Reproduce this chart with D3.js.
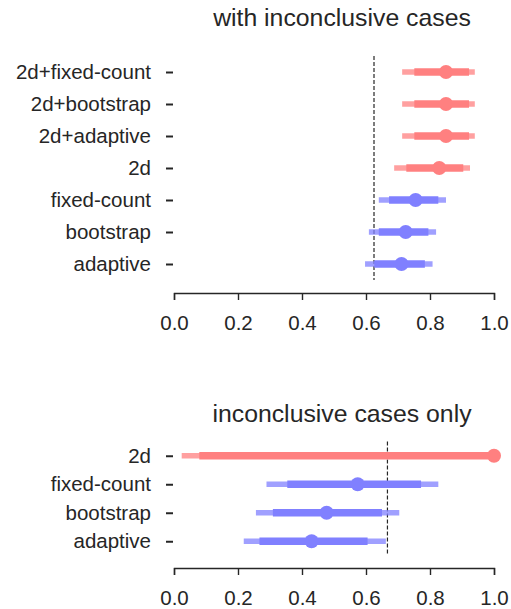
<!DOCTYPE html>
<meta charset="utf-8">
<style>
body { margin: 0; background: #fff; }
text { font-family: "Liberation Sans", Arial, sans-serif; fill: #262626; }
.axis path, .axis line { stroke: #262626; stroke-width: 1.4px; }
.yaxis line { stroke-width: 2px; }
.axis text { font-size: 20.5px; }
.title { font-size: 24.8px; }
</style>
<svg width="511" height="609"></svg>
<script src="https://d3js.org/d3.v7.min.js"></script>
<script>

  // top panel: with inconclusive cases
  var topCats = ["2d+fixed-count", "2d+bootstrap", "2d+adaptive", "2d", "fixed-count", "bootstrap", "adaptive"];
  var topGroup = ["2d", "2d", "2d", "2d", "1d", "1d", "1d"];
  var topMean = [0.850, 0.850, 0.850, 0.829, 0.755, 0.724, 0.711];
  var topOuterLo = [0.713, 0.713, 0.713, 0.688, 0.640, 0.609, 0.597];
  var topOuterHi = [0.940, 0.940, 0.940, 0.925, 0.850, 0.819, 0.808];
  var topInnerLo = [0.751, 0.751, 0.751, 0.726, 0.672, 0.640, 0.626];
  var topInnerHi = [0.922, 0.922, 0.922, 0.904, 0.826, 0.795, 0.784];
  var topRef = 0.625;

  // bottom panel: inconclusive cases only
  var botCats = ["2d", "fixed-count", "bootstrap", "adaptive"];
  var botGroup = ["2d", "1d", "1d", "1d"];
  var botMean = [1.000, 0.574, 0.477, 0.430];
  var botOuterLo = [0.024, 0.289, 0.256, 0.218];
  var botOuterHi = [1.000, 0.826, 0.704, 0.662];
  var botInnerLo = [0.079, 0.354, 0.309, 0.267];
  var botInnerHi = [1.000, 0.772, 0.650, 0.605];
  var botRef = 0.667;

  var xTicks = [0, 0.2, 0.4, 0.6, 0.8, 1.0];

  var svg = d3.select("svg");
  var color = d3.scaleOrdinal().domain(["2d", "1d"]).range(["#ff8080", "#8080ff"]);
  var x = d3.scaleLinear().domain([0, 1]).range([174, 494]);

  function panel(title, titleY, cats, group, mean, oLo, oHi, iLo, iHi, ref, y0, y1, axisY) {
    var y = d3.scalePoint().domain(cats).range([y0, y1]).padding(0.5);
    var g = svg.append("g");

    g.append("text").attr("class", "title")
        .attr("x", 342).attr("y", titleY)
        .attr("text-anchor", "middle")
        .text(title);

    g.append("line")
        .attr("x1", x(ref)).attr("x2", x(ref))
        .attr("y1", y0).attr("y2", y1)
        .attr("stroke", "#262626")
        .attr("stroke-width", 1.2)
        .attr("stroke-dasharray", "4,2");

    var rows = g.selectAll("g.row")
      .data(cats)
      .enter().append("g").attr("class", "row");

    rows.append("line")
        .attr("x1", function(d, i) { return x(oLo[i]); })
        .attr("x2", function(d, i) { return x(oHi[i]); })
        .attr("y1", function(d) { return y(d); })
        .attr("y2", function(d) { return y(d); })
        .attr("stroke", function(d, i) { return color(group[i]); })
        .attr("stroke-opacity", 0.75)
        .attr("stroke-width", 5.3);

    rows.append("line")
        .attr("x1", function(d, i) { return x(iLo[i]); })
        .attr("x2", function(d, i) { return x(iHi[i]); })
        .attr("y1", function(d) { return y(d); })
        .attr("y2", function(d) { return y(d); })
        .attr("stroke", function(d, i) { return color(group[i]); })
        .attr("stroke-width", 7.6);

    rows.append("circle")
        .attr("cx", function(d, i) { return x(mean[i]); })
        .attr("cy", function(d) { return y(d); })
        .attr("r", 7)
        .attr("fill", function(d, i) { return color(group[i]); });

    var ya = g.append("g").attr("class", "axis yaxis")
        .attr("transform", "translate(173,0)")
        .call(d3.axisLeft(y).tickSize(7).tickPadding(15));
    ya.select(".domain").remove();

    g.append("g").attr("class", "axis")
        .attr("transform", "translate(0," + axisY + ")")
        .call(d3.axisBottom(x).tickValues(xTicks).tickFormat(d3.format(".1f"))
          .tickSize(7).tickSizeOuter(7).tickPadding(15));
  }

  panel("with inconclusive cases", 26, topCats, topGroup, topMean,
        topOuterLo, topOuterHi, topInnerLo, topInnerHi, topRef, 56, 280, 293);
  panel("inconclusive cases only", 422, botCats, botGroup, botMean,
        botOuterLo, botOuterHi, botInnerLo, botInnerHi, botRef, 441.5, 555.5, 568);

</script>
